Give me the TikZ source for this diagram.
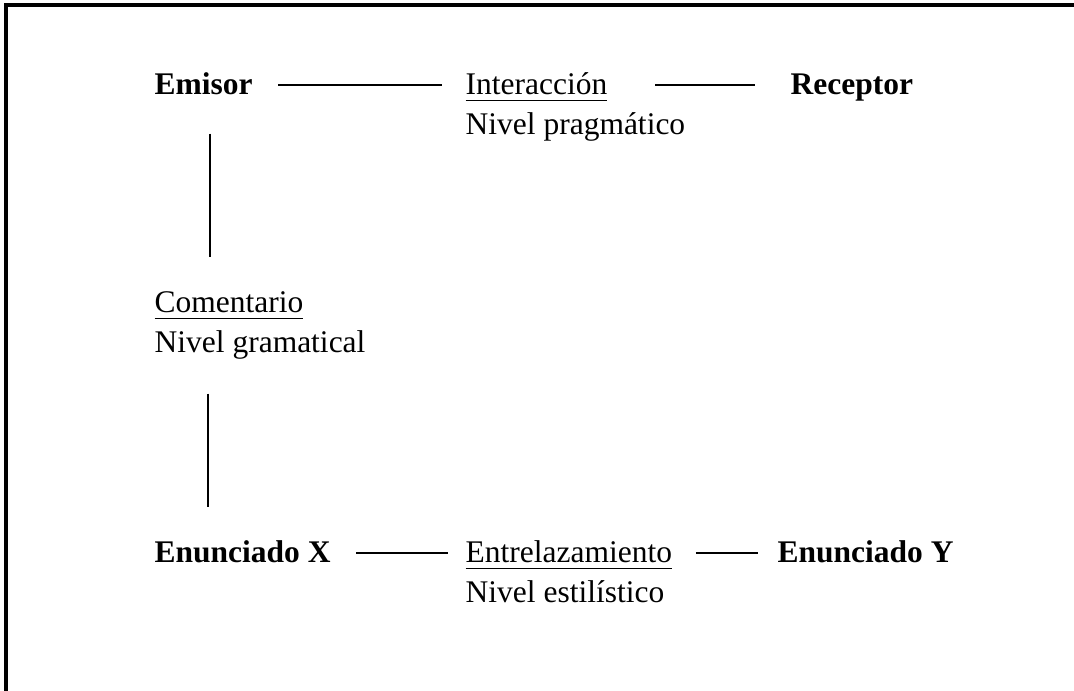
\documentclass[tikz,border=0pt]{standalone}
\usepackage{fontspec}
\setmainfont{Liberation Serif}
\tikzset{
  lbl/.style={anchor=base west, inner sep=0pt, text height=0.24cm, text depth=0.04cm, font=\fontsize{8.96}{11}\selectfont},
  link/.style={line width=0.5pt},
  frame/.style={line width=0.9pt}
}
\begin{document}
\begin{tikzpicture}
\useasboundingbox (0,0) rectangle (10.74,6.91);
\draw[frame] (0.06,0) -- (0.06,6.86) -- (10.74,6.86);
\node[lbl] (emisor) at (1.54,5.96) {\textbf{Emisor}};
\node[lbl] (inter) at (4.65,5.96) {\underline{Interacción}};
\node[lbl] (recep) at (7.90,5.96) {\textbf{Receptor}};
\node[lbl] (prag) at (4.65,5.56) {Nivel pragmático};
\node[lbl] (coment) at (1.54,3.78) {\underline{Comentario}};
\node[lbl] (gram) at (1.54,3.38) {Nivel gramatical};
\node[lbl] (enunx) at (1.54,1.28) {\textbf{Enunciado X}};
\node[lbl] (entre) at (4.65,1.28) {\underline{Entrelazamiento}};
\node[lbl] (enuny) at (7.77,1.28) {\textbf{Enunciado Y}};
\node[lbl] (estil) at (4.65,0.88) {Nivel estilístico};
\draw[link, shorten <=0.25cm, shorten >=0.23cm] (emisor) -- (inter);
\draw[link, shorten <=0.47cm, shorten >=0.35cm] (inter) -- (recep);
\draw[link, shorten <=0.34cm, shorten >=0.31cm] ([xshift=0.06cm]emisor.south) -- ([xshift=0.06cm]emisor.south |- coment.north);
\draw[link, shorten <=0.36cm, shorten >=0.31cm] ([xshift=0.54cm]gram.south west) -- ([xshift=0.54cm]gram.south west |- enunx.north);
\draw[link, shorten <=0.25cm, shorten >=0.17cm] (enunx) -- (entre);
\draw[link, shorten <=0.23cm, shorten >=0.19cm] (entre) -- (enuny);
\end{tikzpicture}
\end{document}
